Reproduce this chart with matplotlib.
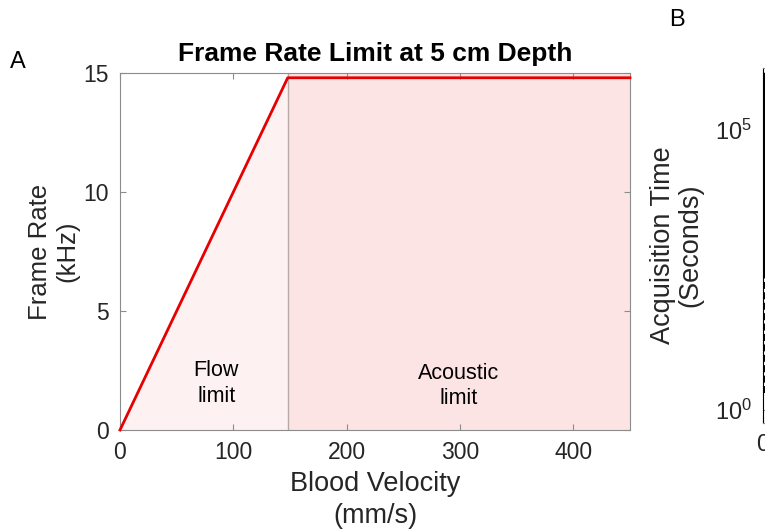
import matplotlib
matplotlib.use("Agg")
import matplotlib.pyplot as plt
import numpy as np

plt.rcParams['font.family'] = ['Liberation Sans', 'DejaVu Sans']

# Panel A data
velocity = [0, 148, 450]          # mm/s
frame_rate = [0, 14.8, 14.8]      # kHz
flow_limit_v = 148
x_ticks = [0, 100, 200, 300, 400]
y_ticks = [0, 5, 10, 15]

# Panel B data (partially visible)
b_y_solid = [1e6, 3e2]
b_y_dashed = [3e2, 2e0]

fig = plt.figure(figsize=(7.65, 5.29), dpi=100)
tc = '#262626'
sc = '#8c8c8c'

ax = fig.add_axes([120/765, 1-430/529, 510/765, 357/529])
ax.fill_between([0, flow_limit_v], [0, 0], [0, frame_rate[1]], color='#fdf1f1', zorder=1, lw=0)
ax.axvspan(flow_limit_v, velocity[-1], color='#fce3e4', zorder=1, lw=0)
ax.axvline(flow_limit_v, color='#b8a8a8', lw=1, zorder=2)
ax.plot(velocity, frame_rate, color='#e60000', lw=2, zorder=3, clip_on=False)
ax.set_xlim(0, 450)
ax.set_ylim(0, 15)
ax.set_xticks(x_ticks)
ax.set_yticks(y_ticks)
ax.tick_params(direction='in', length=4, colors=sc, labelcolor=tc, labelsize=16.5, top=True, right=True, pad=8)
for s in ax.spines.values():
    s.set_color(sc)
ax.set_xlabel('Blood Velocity\n(mm/s)', fontsize=19.5, color=tc, labelpad=5, linespacing=1.3)
ax.set_ylabel('Frame Rate\n(kHz)', fontsize=18.5, color=tc, labelpad=3, linespacing=1.15)
ax.set_title('Frame Rate Limit at 5 cm Depth', fontsize=19, fontweight='bold', pad=9)
ax.text(85, 1.95, 'Flow\nlimit', ha='center', va='center', fontsize=15.5, linespacing=1.3)
ax.text(299, 1.85, 'Acoustic\nlimit', ha='center', va='center', fontsize=15.5, linespacing=1.3)

fig.text(10/765, 1-62/529, 'A', fontsize=17, ha='left', va='center')
fig.text(677/765, 1-20/529, 'B', fontsize=17, ha='center', va='center')

# Panel B
bx = fig.add_axes([763/765, 1-423/529, 0.3, 355/529])
bx.set_yscale('log')
bx.plot([0, 0], b_y_solid, color='black', lw=2.5)
bx.plot([0, 0], b_y_dashed, color='black', lw=2.5, ls=(0, (2, 1)))
bx.set_xlim(0, 10)
bx.set_ylim(10**-0.23, 10**6.1)
bx.set_xticks([0])
bx.set_yticks([1e0, 1e5])
bx.minorticks_off()
bx.tick_params(direction='in', length=4, colors=sc, labelcolor=tc, labelsize=17, pad=8)
for s in bx.spines.values():
    s.set_color(sc)
bx.spines['left'].set_color('black')
bx.set_ylabel('Acquisition Time\n(Seconds)', fontsize=19.5, color=tc, labelpad=8, linespacing=1.1)

fig.savefig('out.png', dpi=100)
